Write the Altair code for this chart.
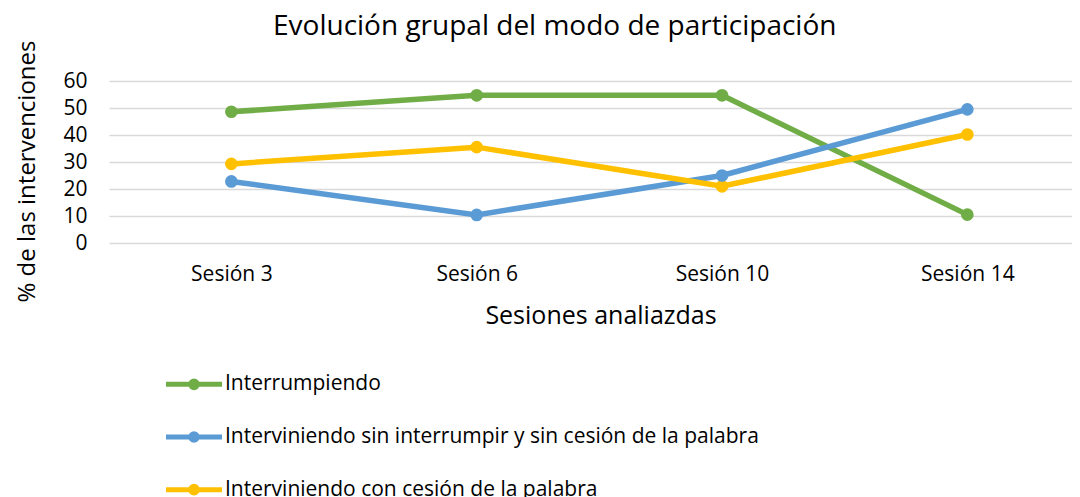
import altair as alt
import pandas as pd

sesiones = ["Sesión 3", "Sesión 6", "Sesión 10", "Sesión 14"]
series = [
    "Interrumpiendo",
    "Interviniendo sin interrumpir y sin cesión de la palabra",
    "Interviniendo con cesión de la palabra",
]
colores = ["#70AD47", "#5B9BD5", "#FFC000"]
interrumpiendo = [48.6, 54.7, 54.7, 10.5]
sin_cesion = [22.8, 10.4, 25.0, 49.5]
con_cesion = [29.3, 35.5, 21.0, 40.2]
y_ticks = [0, 10, 20, 30, 40, 50, 60]

rows = []
for s, vals in zip(series, [interrumpiendo, sin_cesion, con_cesion]):
    for ses, v in zip(sesiones, vals):
        rows.append({"Sesion": ses, "Serie": s, "Valor": v})
df = pd.DataFrame(rows)

FONT = "Open Sans"
TXT = "#000000"

color = alt.Color("Serie:N", sort=series,
                  scale=alt.Scale(domain=series, range=colores), legend=None)
x = alt.X("Sesion:N", sort=sesiones,
          scale=alt.Scale(type="point", padding=0.4627, align=0.539),
          axis=alt.Axis(title="Sesiones analiazdas", labelAngle=0, ticks=False,
                        domain=False, grid=False, labelFontSize=21, labelPadding=20,
                        labelFont=FONT, labelColor=TXT, titleFont=FONT,
                        titleFontSize=25, titleFontWeight="normal", titleColor=TXT,
                        titlePadding=19, titleX=491.5))
y = alt.Y("Valor:Q", scale=alt.Scale(domain=[0, 60], nice=False),
          axis=alt.Axis(values=y_ticks, title="% de las intervenciones",
                        ticks=False, domain=False, grid=True, gridColor="#D9D9D9",
                        gridWidth=1.5, labelFontSize=21, labelFont=FONT,
                        labelColor=TXT, labelPadding=22, titleFont=FONT,
                        titleFontSize=24, titleFontWeight="normal", titleColor=TXT,
                        titleX=-75, titleY=90, titleBaseline="alphabetic",
                        titleAlign="center", titleAngle=270))

base = alt.Chart(df).encode(x=x, y=y, color=color,
                            order=alt.Order("Serie:N"))
lines = base.mark_line(strokeWidth=5.5)
points = base.mark_point(filled=True, size=160, opacity=1)

top = alt.layer(lines, points).properties(
    width=963, height=162,
    title=alt.TitleParams("Evolución grupal del modo de participación",
                          fontSize=28, font=FONT, fontWeight="normal",
                          color=TXT, anchor="start", frame="group", dx=164,
                          baseline="alphabetic", offset=-23),
)

leg_df = pd.DataFrame({"Serie": series})
ly = alt.Y("Serie:N", sort=series, axis=None,
           scale=alt.Scale(type="point", padding=0.5))
lbase = alt.Chart(leg_df).encode(y=ly, color=color)
lrule = lbase.mark_rule(strokeWidth=5).encode(x=alt.value(57), x2=alt.value(113))
lpt = lbase.mark_point(filled=True, size=135, opacity=1).encode(x=alt.value(85))
ltxt = alt.Chart(leg_df).mark_text(align="left", baseline="middle", font=FONT,
                                   fontSize=21, color=TXT).encode(
    y=ly, x=alt.value(116), text="Serie:N")
legend = alt.layer(lrule, lpt, ltxt).properties(width=963, height=158)

chart = alt.vconcat(top, legend, spacing=30).configure_view(stroke=None).properties(
    background="white", padding={"left": 6, "top": 5, "right": 0, "bottom": 0})

chart.save("out.html", embed_options={"renderer": "svg", "actions": False})
